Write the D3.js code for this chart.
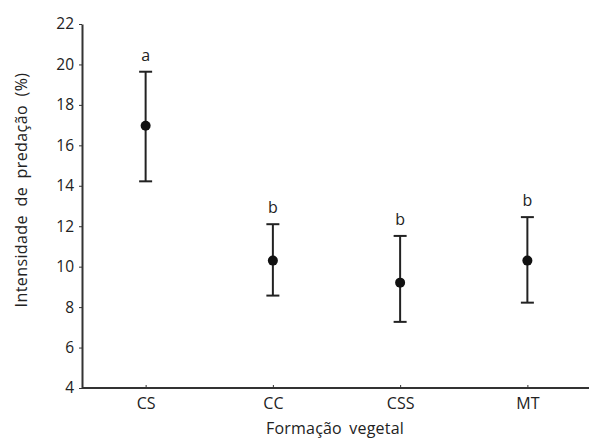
<!DOCTYPE html>
<html>
<head>
<meta charset="utf-8">
<script src="https://cdn.jsdelivr.net/npm/d3@7"></script>
<style>
  body { margin: 0; background: #fff; }
  text { font-family: "Open Sans", "Noto Sans", sans-serif; fill: #222; }
</style>
</head>
<body>
<div id="chart"></div>
<script>
// data
const categories = ['CS', 'CC', 'CSS', 'MT'];
const means = [16.97, 10.3, 9.21, 10.3];
const upper = [19.64, 12.1, 11.52, 12.45];
const lower = [14.22, 8.57, 7.27, 8.22];
const letters = ['a', 'b', 'b', 'b'];
const yTicks = [4, 6, 8, 10, 12, 14, 16, 18, 20, 22];

const width = 589, height = 439;
const margin = {top: 24, right: 0, bottom: 51, left: 82};

const svg = d3.select('#chart').append('svg')
  .attr('width', width)
  .attr('height', height);

const x = d3.scalePoint()
  .domain(categories)
  .range([margin.left, width + 2])
  .padding(0.5);

const y = d3.scaleLinear()
  .domain([4, 22])
  .range([height - margin.bottom, margin.top]);

// y axis
const yAxis = svg.append('g')
  .attr('transform', `translate(${margin.left},0)`)
  .call(d3.axisLeft(y).tickValues(yTicks).tickSize(3).tickPadding(5).tickSizeOuter(0));
yAxis.select('.domain').attr('stroke', '#333').attr('stroke-width', 2);
yAxis.selectAll('.tick line').attr('stroke', '#333');
yAxis.selectAll('.tick text').style('font-size', '15.5px').attr('fill', '#222');

// x axis
const xAxis = svg.append('g')
  .attr('transform', `translate(0,${height - margin.bottom})`)
  .call(d3.axisBottom(x).tickSize(-3).tickPadding(10).tickSizeOuter(0));
xAxis.select('.domain').attr('stroke', '#333').attr('stroke-width', 2)
  .attr('d', `M${margin.left},0H${width}`);
xAxis.selectAll('.tick line').attr('stroke', '#333');
xAxis.selectAll('.tick text').style('font-size', '16px').attr('fill', '#222');

// axis titles
svg.append('text')
  .attr('transform', `translate(27,190) rotate(-90)`)
  .attr('text-anchor', 'middle')
  .style('font-size', '16px')
  .style('letter-spacing', '0.4px')
  .style('word-spacing', '4px')
  .text('Intensidade de predação (%)');

svg.append('text')
  .attr('x', 335)
  .attr('y', 434)
  .attr('text-anchor', 'middle')
  .style('font-size', '16px')
  .style('letter-spacing', '0.2px')
  .style('word-spacing', '3px')
  .text('Formação vegetal');

// error bars
const capW = 6.5;
const g = svg.append('g');
categories.forEach((c, i) => {
  const cx = x(c);
  g.append('line')
    .attr('x1', cx).attr('x2', cx)
    .attr('y1', y(upper[i])).attr('y2', y(lower[i]))
    .attr('stroke', '#222').attr('stroke-width', 2);
  [upper[i], lower[i]].forEach(v => {
    g.append('line')
      .attr('x1', cx - capW).attr('x2', cx + capW)
      .attr('y1', y(v)).attr('y2', y(v))
      .attr('stroke', '#222').attr('stroke-width', 2);
  });
  g.append('circle')
    .attr('cx', cx).attr('cy', y(means[i]))
    .attr('r', 5)
    .attr('fill', '#111');
  g.append('text')
    .attr('x', cx)
    .attr('y', y(upper[i]) - 11)
    .attr('text-anchor', 'middle')
    .style('font-size', '16px')
    .text(letters[i]);
});
</script>
</body>
</html>
